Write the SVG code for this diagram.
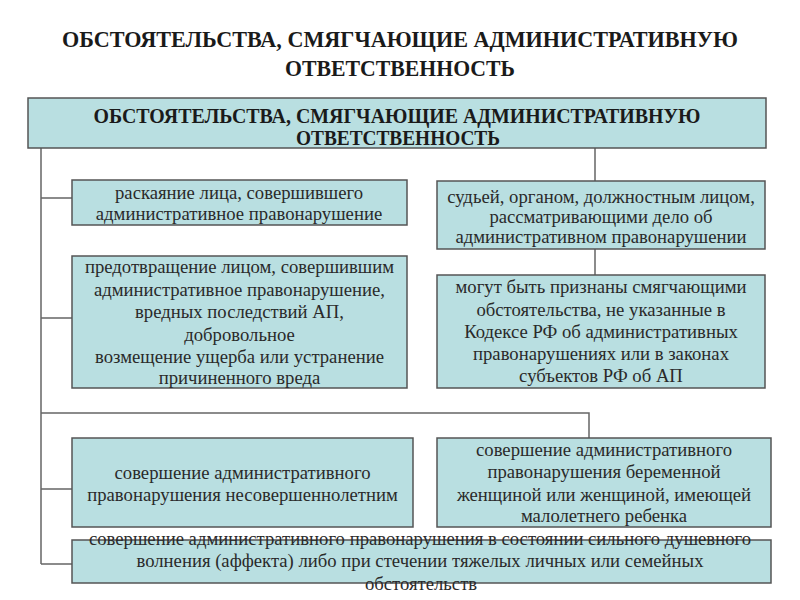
<svg xmlns="http://www.w3.org/2000/svg" width="800" height="600" viewBox="0 0 800 600">
<style>
.t{font-family:"Liberation Serif","DejaVu Serif",serif;font-weight:bold;fill:#1a1a1a;text-anchor:middle}
.b{fill:#b9dfe1;stroke:#555;stroke-width:1.5}
.x{font-family:"Liberation Serif","DejaVu Serif",serif;font-size:18.7px;fill:#2a2a2a;text-anchor:middle}
.c{fill:none;stroke:#666;stroke-width:1.5}
</style>
<rect width="800" height="600" fill="#fff"/>
<g id="title">
<text class="t" x="400" y="47" font-size="23" textLength="676" lengthAdjust="spacingAndGlyphs">ОБСТОЯТЕЛЬСТВА, СМЯГЧАЮЩИЕ АДМИНИСТРАТИВНУЮ</text>
<text class="t" x="400" y="76" font-size="23" textLength="230" lengthAdjust="spacingAndGlyphs">ОТВЕТСТВЕННОСТЬ</text>
</g>
<g id="connectors">
<path class="c" d="M41 148V564M41 198H72M41 318H72M41 413H589V438M41 489H72M41 564H72M595 148V181M595 249V275"/>
</g>
<g id="root">
<rect class="b" x="28" y="98" width="738" height="50"/>
<text class="t" x="397" y="123" font-size="21" textLength="607" lengthAdjust="spacingAndGlyphs">ОБСТОЯТЕЛЬСТВА, СМЯГЧАЮЩИЕ АДМИНИСТРАТИВНУЮ</text>
<text class="t" x="398" y="145" font-size="21" textLength="204" lengthAdjust="spacingAndGlyphs">ОТВЕТСТВЕННОСТЬ</text>
</g>
<g id="n1">
<rect class="b" x="72" y="180" width="335" height="45"/>
<text class="x" x="239" y="198.5">раскаяние лица, совершившего</text>
<text class="x" x="239" y="219.5">административное правонарушение</text>
</g>
<g id="n2">
<rect class="b" x="72" y="256" width="335" height="132"/>
<text class="x" x="239.5" y="273">предотвращение лицом, совершившим</text>
<text class="x" x="239.5" y="295.5">административное правонарушение,</text>
<text class="x" x="239.5" y="318">вредных последствий АП,</text>
<text class="x" x="239.5" y="340.5">добровольное</text>
<text class="x" x="239.5" y="363">возмещение ущерба или устранение</text>
<text class="x" x="239.5" y="384">причиненного вреда</text>
</g>
<g id="n3">
<rect class="b" x="437" y="181" width="328" height="68"/>
<text class="x" x="601" y="202.5">судьей, органом, должностным лицом,</text>
<text class="x" x="601" y="223">рассматривающими дело об</text>
<text class="x" x="601" y="243">административном правонарушении</text>
</g>
<g id="n4">
<rect class="b" x="437" y="275" width="328" height="113"/>
<text class="x" x="601" y="293">могут быть признаны смягчающими</text>
<text class="x" x="601" y="315.5">обстоятельства, не указанные в</text>
<text class="x" x="601" y="338">Кодексе РФ об административных</text>
<text class="x" x="601" y="360">правонарушениях или в законах</text>
<text class="x" x="601" y="382">субъектов РФ об АП</text>
</g>
<g id="n5">
<rect class="b" x="72" y="438" width="341" height="89"/>
<text class="x" x="242.5" y="479">совершение административного</text>
<text class="x" x="242.5" y="500.5">правонарушения несовершеннолетним</text>
</g>
<g id="n6">
<rect class="b" x="437" y="438" width="334" height="89"/>
<text class="x" x="604" y="456">совершение административного</text>
<text class="x" x="604" y="478">правонарушения беременной</text>
<text class="x" x="604" y="500.5">женщиной или женщиной, имеющей</text>
<text class="x" x="604" y="521.5">малолетнего ребенка</text>
</g>
<g id="n7">
<rect class="b" x="72" y="540" width="699" height="43"/>
<text class="x" x="420" y="545">совершение административного правонарушения в состоянии сильного душевного</text>
<text class="x" x="420" y="567">волнения (аффекта) либо при стечении тяжелых личных или семейных</text>
<text class="x" x="421" y="590">обстоятельств</text>
</g>
</svg>
